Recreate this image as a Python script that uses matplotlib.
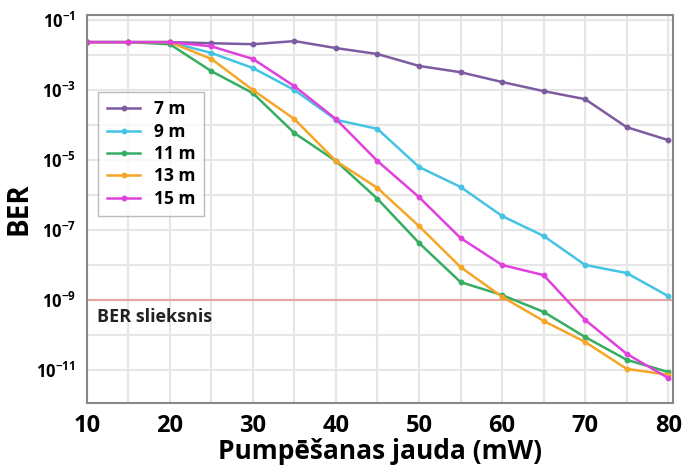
import matplotlib.pyplot as plt
import matplotlib.ticker as mticker
import numpy as np

plt.rcParams['font.family'] = ['Open Sans', 'DejaVu Sans']
plt.rcParams['mathtext.fontset'] = 'custom'
plt.rcParams['mathtext.rm'] = 'Open Sans:bold'
plt.rcParams['mathtext.bf'] = 'Open Sans:bold'

# pump power (mW)
power = [10, 15, 20, 25, 30, 35, 40, 45, 50, 55, 60, 65, 70, 75, 80]

# log10(BER)
ber_7m = [-1.63, -1.63, -1.63, -1.66, -1.69, -1.6, -1.8, -1.97, -2.31, -2.49, -2.77, -3.03, -3.26, -4.06, -4.43]
ber_9m = [-1.63, -1.63, -1.63, -1.94, -2.37, -3.0, -3.85, -4.11, -5.2, -5.77, -6.6, -7.17, -8.0, -8.23, -8.89]
ber_11m = [-1.63, -1.63, -1.69, -2.46, -3.09, -4.23, -5.03, -6.11, -7.37, -8.49, -8.86, -9.34, -10.06, -10.71, -11.06]
ber_13m = [-1.63, -1.63, -1.63, -2.11, -3.0, -3.83, -5.03, -5.8, -6.89, -8.06, -8.91, -9.6, -10.2, -10.97, -11.14]
ber_15m = [-1.63, -1.63, -1.63, -1.75, -2.11, -2.89, -3.83, -5.03, -6.06, -7.23, -8.0, -8.29, -9.57, -10.54, -11.23]

labels = ['7 m', '9 m', '11 m', '13 m', '15 m']
colors = ['#7d5ba0', '#45c3e3', '#36ad62', '#f5a627', '#e040dc']
threshold = 1e-9

fig = plt.figure(figsize=(6.89, 4.75), dpi=100)
ax = fig.add_axes([0.126, 0.152, 0.851, 0.816])

for ys, lab, c in zip([ber_7m, ber_9m, ber_11m, ber_13m, ber_15m], labels, colors):
    ax.plot(power, 10 ** np.array(ys), color=c, lw=1.8, marker='o', ms=3.2,
            mfc=c, mec=c, label=lab)

ax.axhline(threshold, color='#e8a4a4', lw=1.5, zorder=1)
ax.text(11.2, 10 ** -9.5, 'BER slieksnis', fontsize=13, fontweight='bold',
        color='#222222', va='center', ha='left')

ax.set_yscale('log')
ax.set_xlim(10, 80.6)
ax.set_ylim(10 ** -11.94, 10 ** -0.86)

ax.set_xticks([10, 20, 30, 40, 50, 60, 70, 80])
ax.set_xticks(np.arange(15, 80, 10), minor=True)
ax.set_yticks([10.0 ** e for e in [-1, -3, -5, -7, -9, -11]])
ax.set_yticks([10.0 ** e for e in [-2, -4, -6, -8, -10]], minor=True)
ax.yaxis.set_major_formatter(mticker.FuncFormatter(lambda v, p: r'$10^{%d}$' % round(np.log10(v))))
ax.yaxis.set_minor_formatter(mticker.NullFormatter())
ax.xaxis.set_minor_formatter(mticker.NullFormatter())
ax.tick_params(which='both', length=0)
ax.tick_params(axis='x', labelsize=17, pad=8)
ax.tick_params(axis='y', labelsize=12, pad=8)
for t in ax.get_xticklabels():
    t.set_fontweight('bold')

ax.grid(True, which='both', color='#e6e6e6', lw=1.5, zorder=0)
ax.set_axisbelow(True)
for s in ax.spines.values():
    s.set_color('#888888')
    s.set_linewidth(1.5)

ax.set_xlabel('Pumpēšanas jauda (mW)', fontsize=19, fontweight='bold', labelpad=0)
ax.set_ylabel('BER', fontsize=20, fontweight='bold', labelpad=2)

leg = ax.legend(loc='upper left', bbox_to_anchor=(0.005, 0.825),
                prop={'weight': 'bold', 'size': 12.5}, frameon=True, fancybox=False,
                edgecolor='#aaaaaa', handlelength=1.9, labelspacing=0.25,
                borderpad=0.5)
leg.get_frame().set_linewidth(1)

fig.savefig('out.png', dpi=100)
